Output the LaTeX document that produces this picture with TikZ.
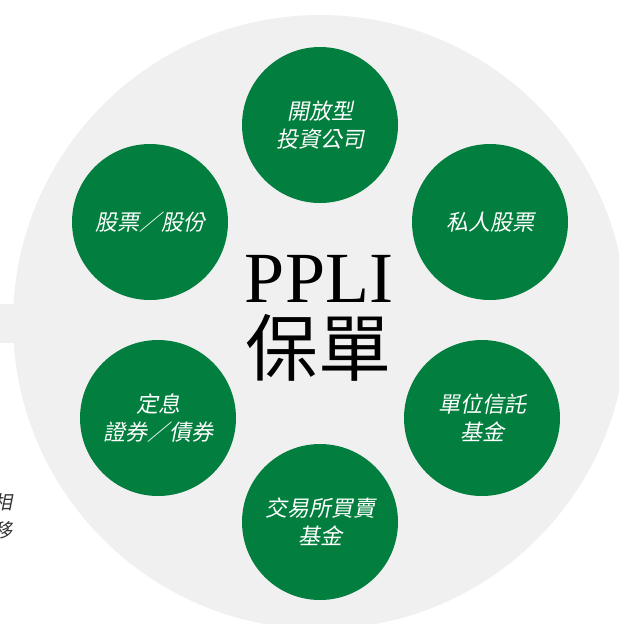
\documentclass[tikz,border=0pt]{standalone}
\usepackage{fontspec}
\setmainfont{Liberation Serif}
\newfontfamily\cjk[FakeSlant=0.2]{Noto Sans CJK TC}
\newfontfamily\cjkup{Noto Sans CJK TC}
\definecolor{pplgreen}{RGB}{2,127,62}
\definecolor{pplgrey}{RGB}{240,240,240}

\begin{document}
\begin{tikzpicture}[x=1pt,y=-1pt,
	fund/.style={circle,fill=pplgreen,minimum size=156pt,inner sep=0pt,text=white,align=center,
		font=\cjk\fontsize{22}{28}\selectfont},
	sidetext/.style={anchor=east,inner sep=0pt,text=black!80,font=\cjk\fontsize{19}{26}\selectfont}]
			\useasboundingbox (0,0) rectangle (619,624);
			\clip (0,0) rectangle (619,624);
			\coordinate (m) at (320,322);
			%background disc
			\fill[pplgrey] (m) circle[radius=307];
			\fill[pplgrey] (0,304) rectangle (30,343);
			%cut off text on the left
			\node[sidetext] (side1) at (13,502) {相};
			\node[sidetext] (side2) at (13,530) {移};
			%centre
			\node[inner sep=0pt,font=\fontsize{72}{72}\selectfont] (ppli) at (319,279) {PPLI};
			\node[inner sep=0pt,font=\cjkup\fontsize{73}{73}\selectfont] (policy) at (318,348) {保單};
			%funds
			\node[fund] (open) at (320,125) {開放型\\投資公司};
			\node[fund] (private) at (490,222) {私人股票};
			\node[fund] (unit) at (482,418) {單位信託\\基金};
			\node[fund] (etf) at (320,522) {交易所買賣\\基金};
			\node[fund] (bond) at (158,418) {定息\\證券／債券};
			\node[fund] (stock) at (150,222) {股票／股份};
\end{tikzpicture}
\end{document}
